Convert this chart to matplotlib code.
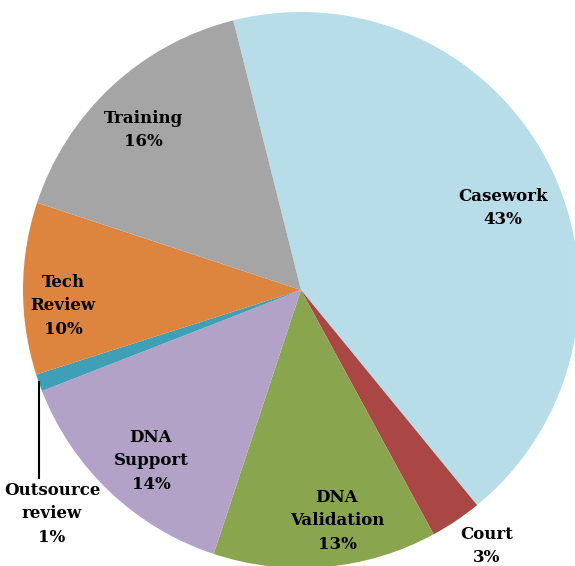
import matplotlib.pyplot as plt

labels = ["Casework", "Court", "DNA\nValidation", "DNA\nSupport",
          "Outsource\nreview", "Tech\nReview", "Training"]
values = [43, 3, 13, 14, 1, 10, 16]
colors = ["#b7dde8", "#aa4643", "#89a54e", "#b2a2c7",
          "#3f9fb6", "#dd853e", "#a5a5a5"]

# where the labels sit (pixel positions in the 575x566 picture)
label_px = [(503, 208), (487, 546), (337, 521), (151, 461),
            (52, 514), (63, 306), (143, 130)]

W, H = 575, 566
cx, cy, r = 301, 290, 278


def to_data(px, py):
    return (px - cx) / r, (cy - py) / r


fig = plt.figure(figsize=(W / 100, H / 100), dpi=100)
ax = fig.add_axes([0, 0, 1, 1])

ax.pie(values, colors=colors, startangle=104.1, counterclock=False,
       wedgeprops=dict(linewidth=0))

ax.set_xlim(-cx / r, (W - cx) / r)
ax.set_ylim(-(H - cy) / r, cy / r)
ax.axis("off")

for lab, v, (px, py) in zip(labels, values, label_px):
    x, y = to_data(px, py)
    ax.text(x, y, f"{lab}\n{v}%", ha="center", va="center",
            fontsize=12, fontweight="bold", family="DejaVu Serif",
            linespacing=1.5)

# leader line for the small slice
x0, y0 = to_data(39, 382)
x1, y1 = to_data(39, 478)
ax.plot([x0, x1], [y0, y1], color="black", lw=1.5)

fig.savefig("out.png", dpi=100)
